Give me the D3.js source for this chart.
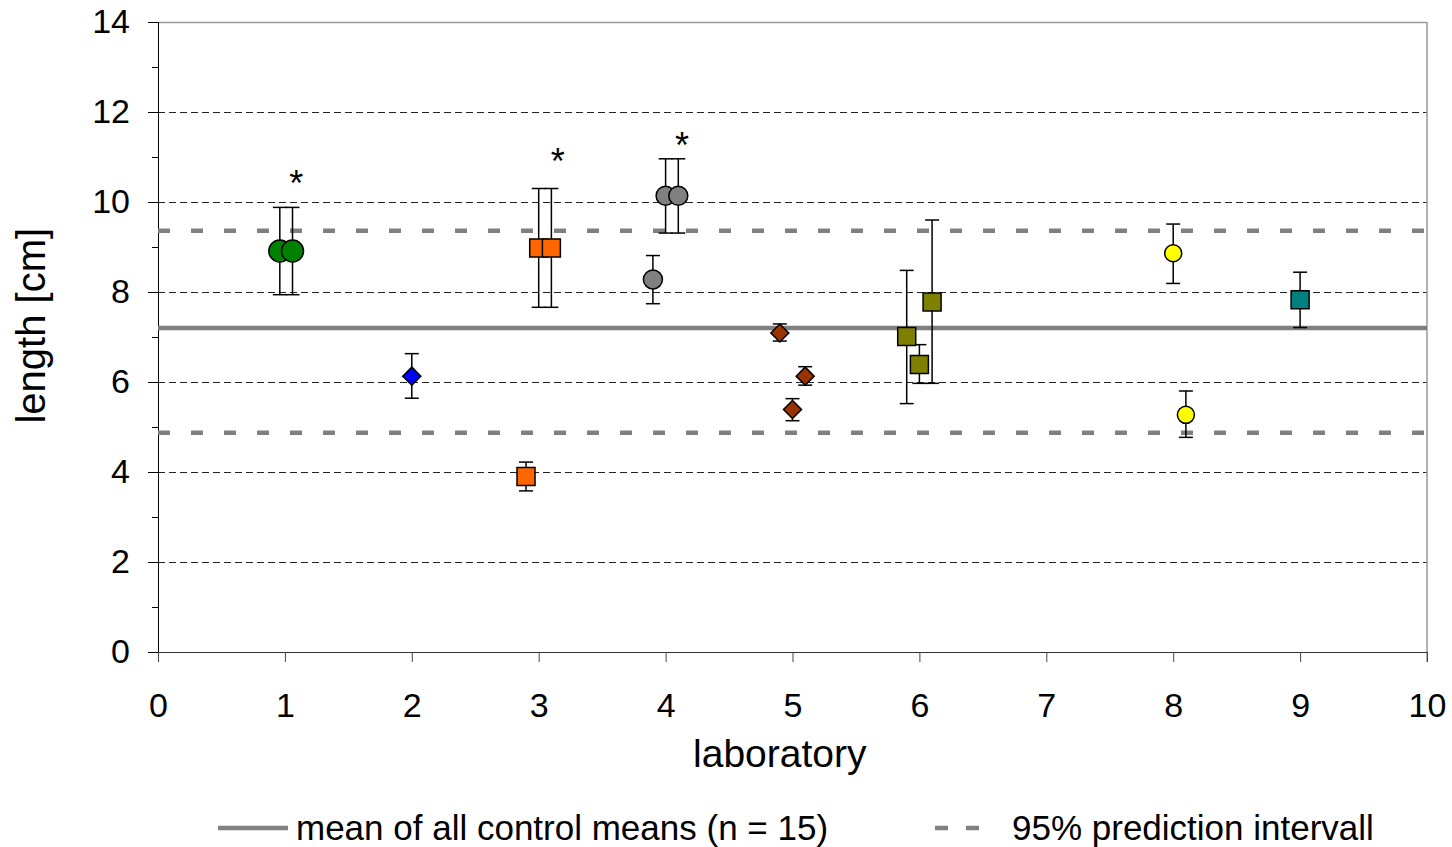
<!DOCTYPE html>
<html>
<head>
<meta charset="utf-8">
<script src="https://cdn.jsdelivr.net/npm/d3@7"></script>
<style>
	body { margin: 0; background: #fff; }
	svg { display: block; font-family: "Liberation Sans", Arial, sans-serif; }
</style>
</head>
<body>
<div id="visDiv"></div>
<script>
// x position on the laboratory axis, mean, upper and lower end of the error bar
var labId    = [1, 1, 2, 3, 3, 3, 4, 4, 4, 5, 5, 5, 6, 6, 6, 8, 8, 9];
var xPos     = [0.96, 1.06, 2.0, 2.9, 3.0, 3.1, 3.9, 4.0, 4.1, 4.9, 5.0, 5.1, 5.9, 6.0, 6.1, 8.0, 8.1, 9.0];
var meanVal  = [8.91, 8.91, 6.13, 3.90, 8.98, 8.98, 8.28, 10.14, 10.14, 7.09, 5.39, 6.13, 7.01, 6.39, 7.78, 8.86, 5.27, 7.83];
var errHigh  = [9.88, 9.88, 6.63, 4.22, 10.30, 10.30, 8.81, 10.96, 10.96, 7.29, 5.63, 6.34, 8.48, 6.83, 9.60, 9.51, 5.80, 8.44];
var errLow   = [7.94, 7.94, 5.64, 3.58, 7.66, 7.66, 7.74, 9.31, 9.31, 6.91, 5.14, 5.93, 5.52, 5.97, 5.97, 8.19, 4.77, 7.21];

// significance stars
var starX = [1.09, 3.15, 4.13];
var starY = [10.49, 10.97, 11.34];

// reference lines
var controlMean = 7.2;
var predInterval = [4.87, 9.36];

var xTicks = [0, 1, 2, 3, 4, 5, 6, 7, 8, 9, 10];
var yTicks = [0, 2, 4, 6, 8, 10, 12, 14];
var yMinorTicks = [1, 3, 5, 7, 9, 11, 13];
var yGrid = [2, 4, 6, 8, 10, 12];

var legendLabels = ['mean of all control means (n = 15)', '95% prediction intervall'];

// marker style per laboratory
var labStyle = {
	1: {shape: 'circle', fill: '#008000', r: 11},
	2: {shape: 'diamond', fill: '#0000ff', r: 9},
	3: {shape: 'square', fill: '#ff6600', r: 9},
	4: {shape: 'circle', fill: '#808080', r: 9.5},
	5: {shape: 'diamond', fill: '#993300', r: 9},
	6: {shape: 'square', fill: '#808000', r: 9},
	8: {shape: 'circle', fill: '#ffff00', r: 8.5},
	9: {shape: 'square', fill: '#008080', r: 9}
};

var margin = {top: 22, right: 25, bottom: 195, left: 158},
	W = 1452, H = 847,
	w = W - margin.left - margin.right,
	h = H - margin.top - margin.bottom;

var svg = d3.select('#visDiv')
	.append('svg')
		.attr('width', W)
		.attr('height', H)
	.append('g')
		.attr('transform', 'translate(' + margin.left + ',' + margin.top + ')');

var x = d3.scaleLinear().domain([0, 10]).range([0, w]);
var y = d3.scaleLinear().domain([0, 14]).range([h, 0]);

// grid
svg.append('g').selectAll('line')
	.data(yGrid)
	.enter().append('line')
		.attr('x1', 0).attr('x2', w)
		.attr('y1', function(d) { return Math.round(y(d)) + 0.5; })
		.attr('y2', function(d) { return Math.round(y(d)) + 0.5; })
		.style('stroke', '#222')
		.style('stroke-width', 1)
		.style('stroke-dasharray', '7,4');

// frame top and right
svg.append('line')
	.attr('x1', 0).attr('x2', w).attr('y1', 0.5).attr('y2', 0.5)
	.style('stroke', '#999').style('stroke-width', 1.5);
svg.append('line')
	.attr('x1', w).attr('x2', w).attr('y1', 0).attr('y2', h + 10)
	.style('stroke', '#999').style('stroke-width', 1.5);

// axes
var yMinor = svg.append('g')
	.call(d3.axisLeft(y).tickValues(yMinorTicks).tickSize(6).tickFormat(''));
yMinor.select('.domain').remove();

var yAxis = svg.append('g')
	.call(d3.axisLeft(y).tickValues(yTicks).tickSize(10).tickSizeOuter(0).tickPadding(18));
yAxis.select('.domain').attr('d', 'M0.5,' + y(14) + 'V' + (y(0) + 10));

var xAxis = svg.append('g')
	.attr('transform', 'translate(0,' + h + ')')
	.call(d3.axisBottom(x).tickValues(xTicks).tickSize(10).tickSizeOuter(0).tickPadding(31));
xAxis.select('.domain').style('stroke', '#333');
xAxis.selectAll('.tick line').style('stroke', '#444');

svg.selectAll('.tick text')
	.style('font-size', '34px')
	.style('fill', '#000');

// axis titles
svg.append('text')
	.attr('x', x(4.9))
	.attr('y', h + 115)
	.style('text-anchor', 'middle')
	.style('font-size', '39px')
	.text('laboratory');

svg.append('text')
	.attr('transform', 'translate(' + (45 - margin.left) + ',' + y(7.25) + ')rotate(-90)')
	.style('text-anchor', 'middle')
	.style('font-size', '40px')
	.text('length [cm]');

// reference lines
svg.append('line')
	.attr('x1', 0).attr('x2', w)
	.attr('y1', y(controlMean)).attr('y2', y(controlMean))
	.style('stroke', '#808080')
	.style('stroke-width', 4.5);

svg.append('g').selectAll('line')
	.data(predInterval)
	.enter().append('line')
		.attr('x1', 0).attr('x2', w)
		.attr('y1', function(d) { return y(d); })
		.attr('y2', function(d) { return y(d); })
		.style('stroke', '#808080')
		.style('stroke-width', 4.5)
		.style('stroke-dasharray', '12,21');

// error bars
var idx = d3.range(xPos.length);
var capW = 7;
var bars = svg.append('g')
	.style('stroke', '#000')
	.style('stroke-width', 1.5);

bars.selectAll('.stem')
	.data(idx)
	.enter().append('line')
		.attr('x1', function(i) { return x(xPos[i]); })
		.attr('x2', function(i) { return x(xPos[i]); })
		.attr('y1', function(i) { return y(errHigh[i]); })
		.attr('y2', function(i) { return y(errLow[i]); });

bars.selectAll('.capHi')
	.data(idx)
	.enter().append('line')
		.attr('x1', function(i) { return x(xPos[i]) - capW; })
		.attr('x2', function(i) { return x(xPos[i]) + capW; })
		.attr('y1', function(i) { return y(errHigh[i]); })
		.attr('y2', function(i) { return y(errHigh[i]); });

bars.selectAll('.capLo')
	.data(idx)
	.enter().append('line')
		.attr('x1', function(i) { return x(xPos[i]) - capW; })
		.attr('x2', function(i) { return x(xPos[i]) + capW; })
		.attr('y1', function(i) { return y(errLow[i]); })
		.attr('y2', function(i) { return y(errLow[i]); });

// markers
function markerPath(s) {
	var r = s.r;
	if (s.shape === 'square') return 'M' + (-r) + ',' + (-r) + 'H' + r + 'V' + r + 'H' + (-r) + 'Z';
	if (s.shape === 'diamond') return 'M0,' + (-r) + 'L' + r + ',0L0,' + r + 'L' + (-r) + ',0Z';
	return 'M' + (-r) + ',0A' + r + ',' + r + ' 0 1,1 ' + r + ',0A' + r + ',' + r + ' 0 1,1 ' + (-r) + ',0Z';
}

svg.append('g').selectAll('path')
	.data(idx)
	.enter().append('path')
		.attr('transform', function(i) { return 'translate(' + x(xPos[i]) + ',' + y(meanVal[i]) + ')'; })
		.attr('d', function(i) { return markerPath(labStyle[labId[i]]); })
		.style('fill', function(i) { return labStyle[labId[i]].fill; })
		.style('stroke', '#000')
		.style('stroke-width', 1.5);

// stars
svg.append('g').selectAll('text')
	.data(starX)
	.enter().append('text')
		.attr('x', function(d) { return x(d); })
		.attr('y', function(d, i) { return y(starY[i]) + 16; })
		.style('text-anchor', 'middle')
		.style('font-size', '36px')
		.text('*');

// legend
var leg = svg.append('g')
	.attr('transform', 'translate(' + (-margin.left) + ',' + (h + 176) + ')');

leg.append('line')
	.attr('x1', 218).attr('x2', 288).attr('y1', 0).attr('y2', 0)
	.style('stroke', '#808080')
	.style('stroke-width', 4.5);

leg.append('line')
	.attr('x1', 935).attr('x2', 981).attr('y1', 0).attr('y2', 0)
	.style('stroke', '#808080')
	.style('stroke-width', 4.5)
	.style('stroke-dasharray', '13,18');

leg.selectAll('text')
	.data(legendLabels)
	.enter().append('text')
		.attr('x', function(d, i) { return i === 0 ? 296 : 1012; })
		.attr('y', 12)
		.style('font-size', '35px')
		.text(function(d) { return d; });
</script>
</body>
</html>
